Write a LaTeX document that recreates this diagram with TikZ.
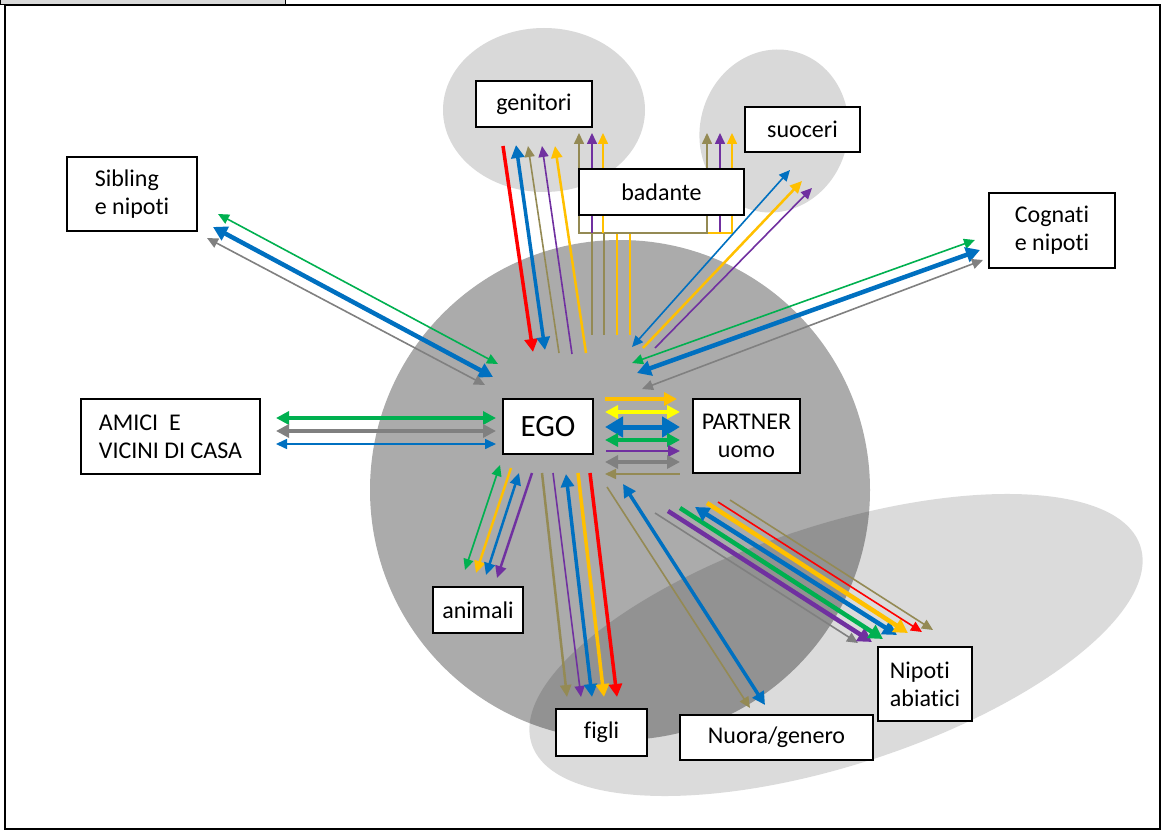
\documentclass[tikz,border=0pt]{standalone}
\usepackage{fontspec}
\setmainfont{Carlito}[Ligatures=NoCommon]
\usetikzlibrary{arrows.meta}
\definecolor{cRed}{HTML}{FF0000}
\definecolor{cBlue}{HTML}{0070C0}
\definecolor{cOlive}{HTML}{948A54}
\definecolor{cPurple}{HTML}{7030A0}
\definecolor{cGold}{HTML}{FFC000}
\definecolor{cYellow}{HTML}{FFFF00}
\definecolor{cGreen}{HTML}{00B050}
\definecolor{cGrey}{HTML}{808080}
\definecolor{cCirc}{HTML}{ABABAB}
\definecolor{cLight}{HTML}{D9D9D9}
\newcommand\link[4]{%
  \coordinate (#1-s) at (#3);
  \coordinate (#1-e) at (#4);
  \draw[#2] (#1-s) -- (#1-e);}
\begin{document}
\begin{tikzpicture}[x=1pt,y=-1pt,
  >={Triangle[length=11pt,width=10pt]},
  wa/.style={line width=1.6pt},
  wb/.style={line width=2.5pt,>={Triangle[length=12pt,width=11pt]}},
  wc/.style={line width=3.5pt,>={Triangle[length=13pt,width=13pt]}},
  wd/.style={line width=4.5pt,>={Triangle[length=14pt,width=15pt]}},
  we/.style={line width=5pt,>={Triangle[length=18pt,width=20pt]}},
  box/.style={draw=black,line width=1.8pt,fill=white,inner sep=0pt,
    font=\fontsize{24}{28}\selectfont}]
\useasboundingbox (0,0) rectangle (1163,832);
% frame
\fill[white] (0,0) rectangle (1163,832);
\filldraw[fill=gray!30,draw=black,line width=1pt] (0,-1) rectangle (285,5);
\draw[line width=2.8pt] (5,5) rectangle (1160,829);
% background areas
\fill[cLight] (544,110) ellipse [x radius=101, y radius=82];
\fill[cLight,rotate around={-15:(774,131)}] (774,131) ellipse [x radius=74, y radius=82];
\fill[cCirc] (620,490) circle [radius=250];
\fill[black,opacity=0.14,rotate around={18:(836,645)}] (836,645) ellipse [x radius=320, y radius=120];
% genitori
\link{g1}{cRed,wc,->}{503,146}{533,352}
\link{g2}{cBlue,wc,<->}{516,145}{545,350}
\link{g3}{cOlive,wa,<-}{528,146}{559,353}
\link{g4}{cPurple,wa,<-}{542,146}{572,354}
\link{g5}{cGold,wb,<-}{555,146}{586,353}
% badante
\coordinate (bo1) at (579,133); \coordinate (bo2) at (579,233);
\coordinate (bo3) at (707,233); \coordinate (bo4) at (707,133);
\draw[cOlive,wa,<->] (bo1) -- (bo2) -- (bo3) -- (bo4);
\link{bp1}{cPurple,wa,<-}{592,133}{592,233}
\link{bg1}{cGold,wa,<-}{603,133}{603,233}
\link{bp2}{cPurple,wa,<-}{720,133}{720,233}
\coordinate (bg2a) at (732,133); \coordinate (bg2b) at (732,233); \coordinate (bg2c) at (708,233);
\draw[cGold,wa,<-] (bg2a) -- (bg2b) -- (bg2c);
\link{bl1}{cOlive,wa}{592,234}{592,335}
\link{bl2}{cOlive,wa}{604,234}{604,335}
\link{bl3}{cGold,wb}{617,234}{617,335}
\link{bl4}{cGold,wb}{630,234}{630,335}
% suoceri
\link{s1}{cBlue,wa,<->}{632,347}{790,170}
\link{s2}{cGold,wb,->}{643,348}{802,181}
\link{s3}{cPurple,wa,->}{655,348}{812,188}
% cognati
\link{c1}{cGreen,wa,<->}{632,363}{975,240}
\link{c2}{cBlue,wd,<->}{637,373}{980,250}
\link{c3}{cGrey,wa,<->}{642,389}{983,260}
% sibling
\link{si1}{cGreen,wa,<->}{218,214}{498,364}
\link{si2}{cBlue,wd,<->}{213,227}{493,377}
\link{si3}{cGrey,wa,<->}{207,238}{485,385}
% amici
\link{a1}{cGreen,wc,<->}{276,418}{496,418}
\link{a2}{cGrey,wc,<->}{276,431}{496,431}
\link{a3}{cBlue,wa,<->}{276,444}{496,444}
% partner
\link{p1}{cGold,wc,->}{605,399}{677,399}
\link{p2}{cYellow,wc,<->}{605,412}{680,412}
\link{p3}{cBlue,we,<->}{605,427}{680,427}
\link{p4}{cGreen,wc,<->}{605,440}{680,440}
\link{p5}{cPurple,wb,->}{606,451}{680,451}
\link{p6}{cGrey,wc,<->}{605,462}{680,462}
\link{p7}{cOlive,wa,<-}{605,474}{680,474}
% animali
\link{an1}{cGreen,wa,<->}{500,465}{465,570}
\link{an2}{cGold,wb,->}{511,468}{476,573}
\link{an3}{cBlue,wb,<->}{519,473}{486,575}
\link{an4}{cPurple,wb,->}{532,473}{497,578}
% figli
\link{f1}{cOlive,wb,->}{542,473}{567,697}
\link{f2}{cPurple,wa,->}{553,473}{581,697}
\link{f3}{cBlue,wc,<->}{566,474}{592,697}
\link{f4}{cGold,wc,->}{578,473}{604,697}
\link{f5}{cRed,wc,->}{590,473}{617,697}
% nuora/genero
\link{n1}{cOlive,wa,->}{607,487}{750,708}
\link{n2}{cBlue,wc,<->}{623,484}{765,705}
% nipoti
\link{ni1}{cGrey,wa,->}{655,513}{858,643}
\link{ni2}{cPurple,wd,->}{668,511}{872,642}
\link{ni3}{cGreen,wd,->}{680,508}{883,639}
\link{ni4}{cBlue,wd,<->}{695,507}{897,635}
\link{ni5}{cGold,wd,->}{707,503}{908,633}
\link{ni6}{cRed,wa,->}{718,502}{922,632}
\link{ni7}{cOlive,wa,->}{730,500}{933,630}
% boxes
\node[box,minimum width=116,minimum height=46] (genitori) at (534,104) {genitori};
\node[box,minimum width=165,minimum height=46] (badante) at (661.5,192) {badante};
\node[box,minimum width=115,minimum height=45] (suoceri) at (802.5,129.5) {suoceri};
\node[box,minimum width=130,minimum height=74,align=left] (sibling) at (132,194) {Sibling\\e nipoti};
\node[box,minimum width=126,minimum height=75,align=left] (cognati) at (1052,230.5) {Cognati\\e nipoti};
\node[box,minimum width=179,minimum height=75,align=left] (amici) at (170.5,436.5) {AMICI\ \ E\\VICINI DI CASA};
\node[box,minimum width=90,minimum height=55,font=\fontsize{31}{34}\selectfont] (ego) at (548,426.5) {EGO};
\node[box,minimum width=107,minimum height=74,align=center] (partner) at (746.5,436) {PARTNER\\uomo};
\node[box,minimum width=90,minimum height=46] (animali) at (478,610) {animali};
\node[box,minimum width=91,minimum height=47] (figli) at (601.5,732.5) {figli};
\node[box,minimum width=193,minimum height=45] (nuora) at (776.5,737.5) {Nuora/genero};
\node[box,minimum width=94,minimum height=74,align=left] (nipoti) at (925,684) {Nipoti\\abiatici};
\end{tikzpicture}
\end{document}
